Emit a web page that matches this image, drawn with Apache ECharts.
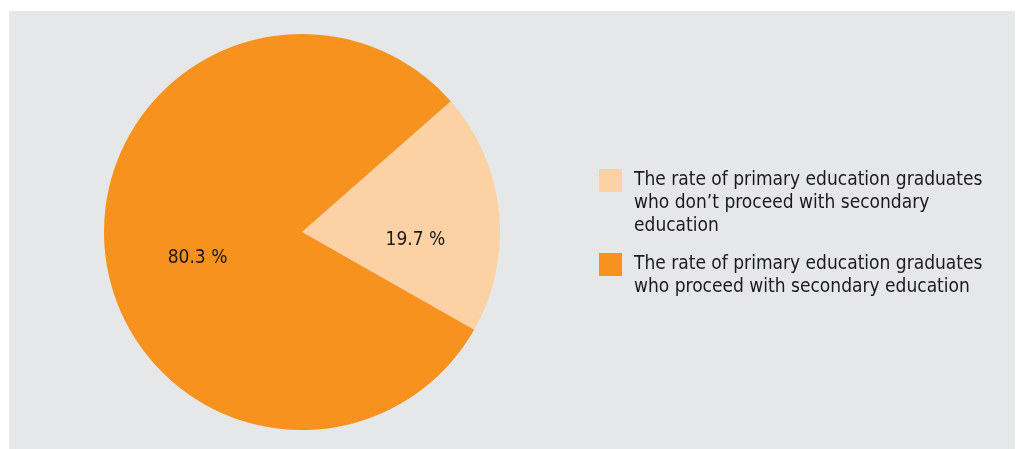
<!DOCTYPE html>
<html>
<head>
<meta charset="utf-8">
<script src="https://cdn.jsdelivr.net/npm/echarts@6/dist/echarts.min.js"></script>
<style>
  html, body { margin: 0; padding: 0; background: #fff; }
  #pie { width: 1016px; height: 449px; }
</style>
</head>
<body>
<div id="pie"></div>
<script>
var names = [
  'The rate of primary education graduates\nwho don\u2019t proceed with secondary\neducation',
  'The rate of primary education graduates\nwho proceed with secondary education'
];
var values = [19.7, 80.3];
var colors = ['#FCD1A3', '#F7921F'];

var FONT = '"Liberation Sans Narrow", "DejaVu Sans Condensed", sans-serif';
var LH = 23;
var chart = echarts.init(document.getElementById('pie'));

// one legend per item; blank lines on top keep the icon level with line one
function legendFor(i, iconTop) {
  var lines = names[i].split('\n');
  var pad = lines.length - 1;
  return {
    orient: 'vertical',
    left: 594,
    top: iconTop - 5 - pad * LH,
    itemWidth: 23,
    itemHeight: 23,
    selectedMode: false,
    data: [{ name: names[i], icon: 'rect' }],
    formatter: function () {
      var s = '';
      for (var k = 0; k < pad; k++) s += ' \n';
      return s + lines.map(function (l) { return '{t|' + l + '}'; }).join('\n');
    },
    textStyle: {
      fontFamily: FONT,
      fontSize: 19,
      lineHeight: LH,
      color: '#1a1a1a',
      rich: {
        t: {
          fontFamily: FONT,
          fontSize: 19,
          lineHeight: LH,
          color: '#1a1a1a',
          padding: [0, 0, 0, 7]
        }
      }
    }
  };
}

chart.setOption({
  animation: false,
  backgroundColor: '#fff',
  color: colors,
  graphic: [{
    type: 'rect',
    z: -10,
    shape: { x: 9, y: 11, width: 1006, height: 438 },
    style: { fill: '#E6E7E8' }
  }],
  legend: [legendFor(0, 169), legendFor(1, 253)],
  series: [{
    type: 'pie',
    center: [302, 232],
    radius: 198,
    startAngle: 41.3,
    clockwise: true,
    label: {
      position: 'inner',
      fontFamily: FONT,
      fontSize: 19,
      color: '#1a1a1a',
      formatter: function (p) { return p.value.toFixed(1) + ' %'; }
    },
    labelLayout: function (p) {
      return p.dataIndex === 0 ? { dx: 12, dy: 18 } : { dx: -3, dy: 16 };
    },
    emphasis: { disabled: true },
    data: names.map(function (n, i) {
      return { name: n, value: values[i] };
    })
  }]
});
</script>
</body>
</html>
